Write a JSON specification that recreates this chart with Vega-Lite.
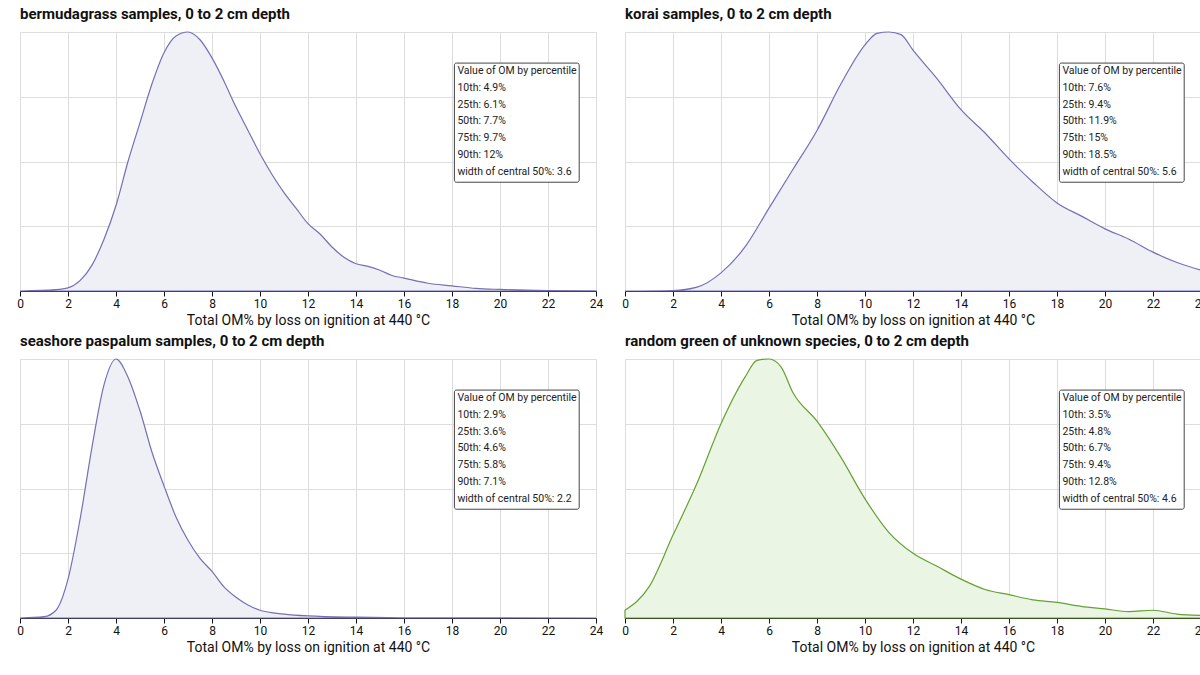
{
  "$schema": "https://vega.github.io/schema/vega-lite/v6.json",
  "padding": {"left": 16, "top": 6, "right": 14, "bottom": 4},
  "data": {"values": [
    {"g": "b", "kind": "box", "lines": ["Value of OM by percentile", "10th: 4.9%", "25th: 6.1%", "50th: 7.7%", "75th: 9.7%", "90th: 12%", "width of central 50%: 3.6"]},
    {"g": "k", "kind": "box", "lines": ["Value of OM by percentile", "10th: 7.6%", "25th: 9.4%", "50th: 11.9%", "75th: 15%", "90th: 18.5%", "width of central 50%: 5.6"]},
    {"g": "s", "kind": "box", "lines": ["Value of OM by percentile", "10th: 2.9%", "25th: 3.6%", "50th: 4.6%", "75th: 5.8%", "90th: 7.1%", "width of central 50%: 2.2"]},
    {"g": "r", "kind": "box", "lines": ["Value of OM by percentile", "10th: 3.5%", "25th: 4.8%", "50th: 6.7%", "75th: 9.4%", "90th: 12.8%", "width of central 50%: 4.6"]},
    {"g": "b", "kind": "c", "x": 0, "d": 0}, {"g": "b", "kind": "c", "x": 1.5, "d": 0.005}, {"g": "b", "kind": "c", "x": 2, "d": 0.012},
    {"g": "b", "kind": "c", "x": 2.5, "d": 0.04}, {"g": "b", "kind": "c", "x": 3, "d": 0.1}, {"g": "b", "kind": "c", "x": 3.5, "d": 0.2},
    {"g": "b", "kind": "c", "x": 4, "d": 0.33}, {"g": "b", "kind": "c", "x": 4.5, "d": 0.5}, {"g": "b", "kind": "c", "x": 5, "d": 0.65},
    {"g": "b", "kind": "c", "x": 5.5, "d": 0.8}, {"g": "b", "kind": "c", "x": 6, "d": 0.92}, {"g": "b", "kind": "c", "x": 6.5, "d": 0.985},
    {"g": "b", "kind": "c", "x": 7, "d": 1.0}, {"g": "b", "kind": "c", "x": 7.5, "d": 0.97}, {"g": "b", "kind": "c", "x": 8, "d": 0.9},
    {"g": "b", "kind": "c", "x": 8.5, "d": 0.81}, {"g": "b", "kind": "c", "x": 9, "d": 0.71}, {"g": "b", "kind": "c", "x": 9.5, "d": 0.62},
    {"g": "b", "kind": "c", "x": 10, "d": 0.53}, {"g": "b", "kind": "c", "x": 10.5, "d": 0.45}, {"g": "b", "kind": "c", "x": 11, "d": 0.38},
    {"g": "b", "kind": "c", "x": 11.5, "d": 0.32}, {"g": "b", "kind": "c", "x": 12, "d": 0.26}, {"g": "b", "kind": "c", "x": 12.5, "d": 0.22},
    {"g": "b", "kind": "c", "x": 13, "d": 0.17}, {"g": "b", "kind": "c", "x": 13.5, "d": 0.13}, {"g": "b", "kind": "c", "x": 14, "d": 0.105},
    {"g": "b", "kind": "c", "x": 14.5, "d": 0.095}, {"g": "b", "kind": "c", "x": 15, "d": 0.08}, {"g": "b", "kind": "c", "x": 15.5, "d": 0.06},
    {"g": "b", "kind": "c", "x": 16, "d": 0.05}, {"g": "b", "kind": "c", "x": 17, "d": 0.03}, {"g": "b", "kind": "c", "x": 18, "d": 0.02},
    {"g": "b", "kind": "c", "x": 19, "d": 0.01}, {"g": "b", "kind": "c", "x": 20, "d": 0.006}, {"g": "b", "kind": "c", "x": 22, "d": 0.002},
    {"g": "b", "kind": "c", "x": 24, "d": 0.001},
    {"g": "k", "kind": "c", "x": 0, "d": 0}, {"g": "k", "kind": "c", "x": 2, "d": 0.002}, {"g": "k", "kind": "c", "x": 3, "d": 0.015},
    {"g": "k", "kind": "c", "x": 4, "d": 0.07}, {"g": "k", "kind": "c", "x": 5, "d": 0.17}, {"g": "k", "kind": "c", "x": 6, "d": 0.32},
    {"g": "k", "kind": "c", "x": 7, "d": 0.47}, {"g": "k", "kind": "c", "x": 8, "d": 0.62}, {"g": "k", "kind": "c", "x": 9, "d": 0.8},
    {"g": "k", "kind": "c", "x": 10, "d": 0.95}, {"g": "k", "kind": "c", "x": 10.5, "d": 0.995}, {"g": "k", "kind": "c", "x": 11, "d": 1.0},
    {"g": "k", "kind": "c", "x": 11.5, "d": 0.99}, {"g": "k", "kind": "c", "x": 12, "d": 0.93}, {"g": "k", "kind": "c", "x": 13, "d": 0.82},
    {"g": "k", "kind": "c", "x": 14, "d": 0.7}, {"g": "k", "kind": "c", "x": 15, "d": 0.61}, {"g": "k", "kind": "c", "x": 16, "d": 0.51},
    {"g": "k", "kind": "c", "x": 17, "d": 0.42}, {"g": "k", "kind": "c", "x": 18, "d": 0.34}, {"g": "k", "kind": "c", "x": 19, "d": 0.29},
    {"g": "k", "kind": "c", "x": 20, "d": 0.24}, {"g": "k", "kind": "c", "x": 21, "d": 0.2}, {"g": "k", "kind": "c", "x": 22, "d": 0.15},
    {"g": "k", "kind": "c", "x": 23, "d": 0.11}, {"g": "k", "kind": "c", "x": 24, "d": 0.08},
    {"g": "s", "kind": "c", "x": 0, "d": 0}, {"g": "s", "kind": "c", "x": 1, "d": 0.005}, {"g": "s", "kind": "c", "x": 1.5, "d": 0.03},
    {"g": "s", "kind": "c", "x": 2, "d": 0.15}, {"g": "s", "kind": "c", "x": 2.5, "d": 0.38}, {"g": "s", "kind": "c", "x": 3, "d": 0.66},
    {"g": "s", "kind": "c", "x": 3.5, "d": 0.9}, {"g": "s", "kind": "c", "x": 4, "d": 1.0}, {"g": "s", "kind": "c", "x": 4.5, "d": 0.93},
    {"g": "s", "kind": "c", "x": 5, "d": 0.8}, {"g": "s", "kind": "c", "x": 5.5, "d": 0.64}, {"g": "s", "kind": "c", "x": 6, "d": 0.51},
    {"g": "s", "kind": "c", "x": 6.5, "d": 0.39}, {"g": "s", "kind": "c", "x": 7, "d": 0.3}, {"g": "s", "kind": "c", "x": 7.5, "d": 0.23},
    {"g": "s", "kind": "c", "x": 8, "d": 0.18}, {"g": "s", "kind": "c", "x": 8.5, "d": 0.12}, {"g": "s", "kind": "c", "x": 9, "d": 0.08},
    {"g": "s", "kind": "c", "x": 9.5, "d": 0.05}, {"g": "s", "kind": "c", "x": 10, "d": 0.03}, {"g": "s", "kind": "c", "x": 11, "d": 0.015},
    {"g": "s", "kind": "c", "x": 12, "d": 0.008}, {"g": "s", "kind": "c", "x": 14, "d": 0.003}, {"g": "s", "kind": "c", "x": 16, "d": 0.001},
    {"g": "s", "kind": "c", "x": 24, "d": 0},
    {"g": "r", "kind": "c", "x": 0, "d": 0.03}, {"g": "r", "kind": "c", "x": 1, "d": 0.12}, {"g": "r", "kind": "c", "x": 2, "d": 0.32},
    {"g": "r", "kind": "c", "x": 3, "d": 0.52}, {"g": "r", "kind": "c", "x": 4, "d": 0.75}, {"g": "r", "kind": "c", "x": 5, "d": 0.93},
    {"g": "r", "kind": "c", "x": 5.5, "d": 0.995}, {"g": "r", "kind": "c", "x": 6, "d": 1.0}, {"g": "r", "kind": "c", "x": 6.5, "d": 0.97},
    {"g": "r", "kind": "c", "x": 7, "d": 0.87}, {"g": "r", "kind": "c", "x": 8, "d": 0.76}, {"g": "r", "kind": "c", "x": 9, "d": 0.62},
    {"g": "r", "kind": "c", "x": 10, "d": 0.46}, {"g": "r", "kind": "c", "x": 11, "d": 0.33}, {"g": "r", "kind": "c", "x": 12, "d": 0.25},
    {"g": "r", "kind": "c", "x": 13, "d": 0.2}, {"g": "r", "kind": "c", "x": 14, "d": 0.15}, {"g": "r", "kind": "c", "x": 15, "d": 0.11},
    {"g": "r", "kind": "c", "x": 16, "d": 0.09}, {"g": "r", "kind": "c", "x": 17, "d": 0.07}, {"g": "r", "kind": "c", "x": 18, "d": 0.06},
    {"g": "r", "kind": "c", "x": 19, "d": 0.045}, {"g": "r", "kind": "c", "x": 20, "d": 0.035}, {"g": "r", "kind": "c", "x": 21, "d": 0.025},
    {"g": "r", "kind": "c", "x": 22, "d": 0.03}, {"g": "r", "kind": "c", "x": 23, "d": 0.015}, {"g": "r", "kind": "c", "x": 24, "d": 0.01}
  ]},
  "facet": {
    "field": "g",
    "type": "nominal",
    "sort": ["b", "k", "s", "r"],
    "header": {
      "title": null,
      "labelExpr": "datum.value == 'b' ? 'bermudagrass samples, 0 to 2 cm depth' : datum.value == 'k' ? 'korai samples, 0 to 2 cm depth' : datum.value == 's' ? 'seashore paspalum samples, 0 to 2 cm depth' : 'random green of unknown species, 0 to 2 cm depth'",
      "labelAnchor": "start", "labelFont": "Roboto", "labelFontWeight": "bold", "labelFontSize": 15, "labelColor": "#111", "labelPadding": 8
    }
  },
  "columns": 2,
  "spacing": {"column": 18, "row": 6},
  "resolve": {"axis": {"x": "independent"}},
  "spec": {
    "width": 576,
    "height": 259,
    "layer": [
      {
        "transform": [{"filter": "datum.kind == 'c'"}],
        "mark": {"type": "area", "interpolate": "monotone", "fillOpacity": 1, "strokeWidth": 1.2},
        "encoding": {
          "x": {"field": "x", "type": "quantitative", "scale": {"domain": [0, 24], "nice": false},
                "title": "Total OM% by loss on ignition at 440 °C",
                "axis": {"values": [0, 2, 4, 6, 8, 10, 12, 14, 16, 18, 20, 22, 24], "domainColor": "#111", "tickColor": "#111", "labelFlush": false}},
          "y": {"field": "d", "type": "quantitative", "scale": {"domain": [0, 1], "nice": false},
                "axis": {"values": [0, 0.25, 0.5, 0.75, 1], "labels": false, "ticks": false, "domain": false, "title": null}},
          "fill": {"field": "g", "type": "nominal", "legend": null,
                   "scale": {"domain": ["b", "k", "s", "r"], "range": ["#efeff6", "#efeff6", "#efeff6", "#ebf5e4"]}},
          "stroke": {"field": "g", "type": "nominal", "legend": null,
                     "scale": {"domain": ["b", "k", "s", "r"], "range": ["#7570b3", "#7570b3", "#7570b3", "#66a033"]}}
        }
      },
      {
        "transform": [{"filter": "datum.kind == 'box'"}],
        "mark": {"type": "rect", "fill": "white", "stroke": "#444", "strokeWidth": 1, "cornerRadius": 2},
        "encoding": {
          "x": {"datum": 18.1, "type": "quantitative"},
          "x2": {"datum": 23.3},
          "y": {"datum": 0.88, "type": "quantitative"},
          "y2": {"datum": 0.42}
        }
      },
      {
        "transform": [{"filter": "datum.kind == 'box'"}],
        "mark": {"type": "text", "align": "left", "baseline": "top", "font": "Roboto", "fontSize": 10.5, "lineHeight": 16.8, "color": "#222", "dx": 3, "dy": 3},
        "encoding": {
          "x": {"datum": 18.1, "type": "quantitative"},
          "y": {"datum": 0.88, "type": "quantitative"},
          "text": {"field": "lines"}
        }
      }
    ]
  },
  "config": {
    "view": {"stroke": null},
    "font": "Roboto",
    "axis": {"gridColor": "#dddddd", "labelFont": "Roboto", "labelFontSize": 12, "labelColor": "#111", "titleFont": "Roboto", "titleFontSize": 14, "titleFontWeight": "normal", "titleColor": "#111", "titlePadding": 4}
  }
}
